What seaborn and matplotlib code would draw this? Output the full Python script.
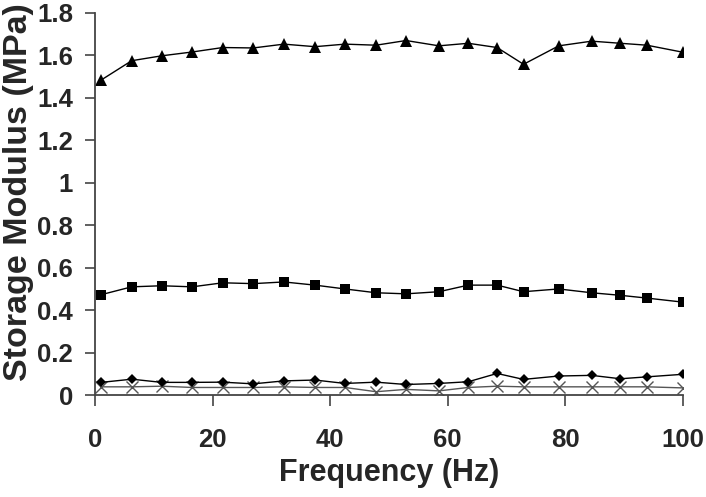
import matplotlib
matplotlib.use("Agg")
import matplotlib.pyplot as plt
import seaborn as sns
import pandas as pd

freq = [1, 6.2, 11.3, 16.5, 21.7, 26.9, 32.1, 37.4, 42.5, 47.8,
        52.9, 58.5, 63.5, 68.4, 72.9, 78.9, 84.5, 89.4, 93.9, 100]
tri_vals = [1.484, 1.575, 1.598, 1.616, 1.637, 1.635, 1.653, 1.641, 1.653, 1.648,
            1.670, 1.645, 1.657, 1.637, 1.558, 1.645, 1.667, 1.657, 1.648, 1.615]
sq_vals = [0.473, 0.510, 0.515, 0.510, 0.529, 0.525, 0.533, 0.518, 0.500, 0.482,
           0.477, 0.487, 0.518, 0.518, 0.487, 0.500, 0.482, 0.470, 0.457, 0.438]
dia_vals = [0.060, 0.075, 0.060, 0.060, 0.061, 0.053, 0.067, 0.071, 0.055, 0.061,
            0.050, 0.055, 0.063, 0.102, 0.074, 0.090, 0.093, 0.077, 0.086, 0.098]
x_vals = [0.039, 0.039, 0.042, 0.036, 0.036, 0.036, 0.039, 0.036, 0.036, 0.016,
          0.027, 0.020, 0.036, 0.042, 0.039, 0.039, 0.039, 0.039, 0.039, 0.034]
xticks = [0, 20, 40, 60, 80, 100]
yticks = [0, 0.2, 0.4, 0.6, 0.8, 1.0, 1.2, 1.4, 1.6, 1.8]
ytick_labels = ["0", "0.2", "0.4", "0.6", "0.8", "1", "1.2", "1.4", "1.6", "1.8"]

sns.set_style("ticks")
plt.rcParams['font.family'] = ['Liberation Sans', 'DejaVu Sans']
plt.rcParams['font.weight'] = 'bold'

fig = plt.figure(figsize=(7.06, 4.97), dpi=100)
ax = fig.add_axes([0.135, 0.205, 0.832, 0.769])

sns.lineplot(x=freq, y=x_vals, ax=ax, color="#555555", lw=1.0, marker="x",
             markersize=8, markeredgewidth=1.0, markeredgecolor="#555555")
sns.lineplot(x=freq, y=dia_vals, ax=ax, color="black", lw=1.0, marker="D",
             markersize=5, markeredgewidth=0, markerfacecolor="black")
sns.lineplot(x=freq, y=sq_vals, ax=ax, color="black", lw=1.0, marker="s",
             markersize=6.5, markeredgewidth=0, markerfacecolor="black")
sns.lineplot(x=freq, y=tri_vals, ax=ax, color="black", lw=1.0, marker="^",
             markersize=8, markeredgewidth=0, markerfacecolor="black")

ax.set_xlim(0, 100)
ax.set_ylim(0, 1.8)
ax.set_xticks(xticks)
ax.set_xticklabels([str(t) for t in xticks])
ax.set_yticks(yticks)
ax.set_yticklabels(ytick_labels)
for s in ["top", "right"]:
    ax.spines[s].set_visible(False)
for s in ["left", "bottom"]:
    ax.spines[s].set_color("#444444")
    ax.spines[s].set_linewidth(1.3)
ax.tick_params(axis="x", direction="out", length=8, width=1.2, color="#444444",
               pad=16, labelsize=18.5)
ax.tick_params(axis="y", direction="out", length=7, width=1.2, color="#444444",
               pad=9, labelsize=18.5)
for lab in ax.get_xticklabels() + ax.get_yticklabels():
    lab.set_fontweight("bold")

ax.set_xlabel("Frequency (Hz)", fontsize=22, fontweight="bold", labelpad=4)
ax.set_ylabel("Storage Modulus (MPa)", fontsize=24.5, fontweight="bold")
ax.yaxis.set_label_coords(-0.105, 0.53)

fig.savefig("out.png", dpi=100)
